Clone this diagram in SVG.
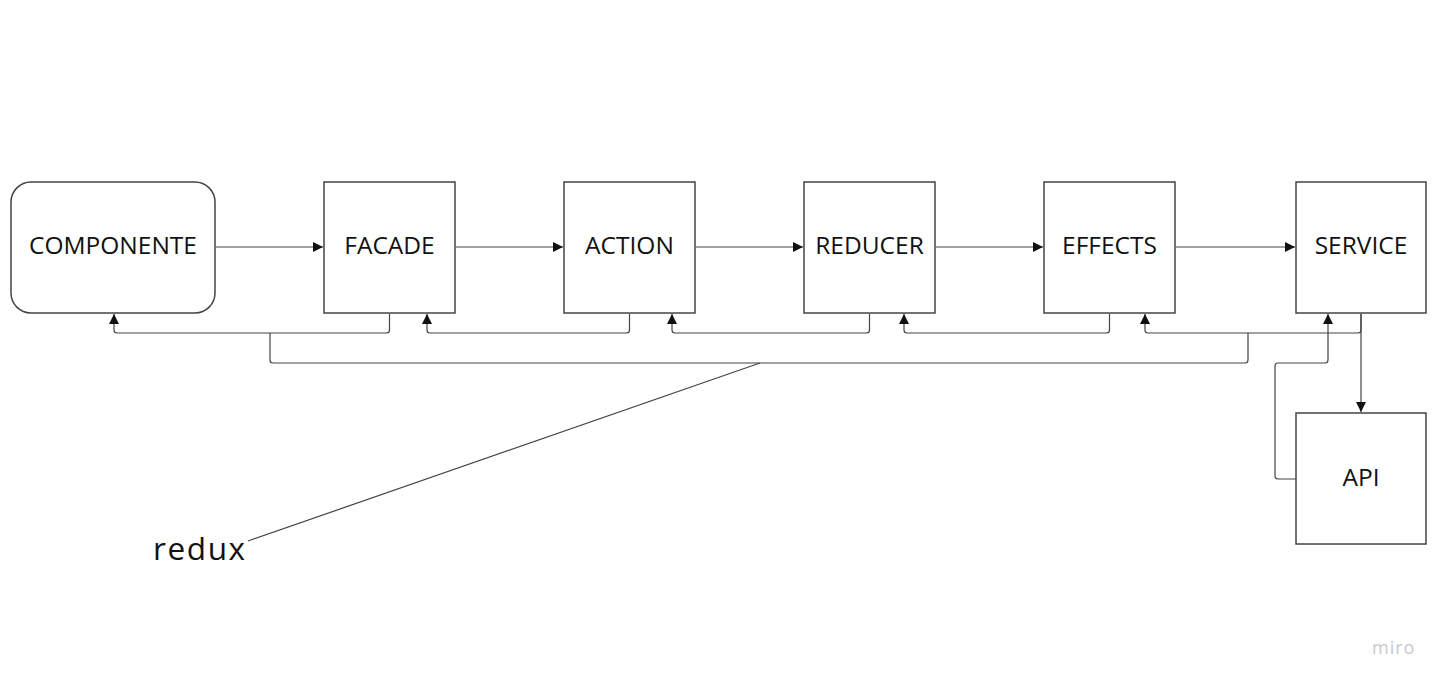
<svg xmlns="http://www.w3.org/2000/svg" width="1451" height="688" viewBox="0 0 1451 688">
<defs>
<marker id="ah" viewBox="0 0 10 10" refX="10" refY="5" markerWidth="10" markerHeight="10" markerUnits="userSpaceOnUse" orient="auto">
<path d="M0,0 L10,5 L0,10 Z" fill="#111"/>
</marker>
</defs>
<style>
.box{fill:#fff;stroke:#444;stroke-width:1.5}
.lbl{font-family:"Open Sans",sans-serif;font-size:24.5px;fill:#111;text-anchor:middle}
.c{fill:none;stroke:#444;stroke-width:1.2}
.a{marker-end:url(#ah)}
</style>
<rect width="1451" height="688" fill="#fff"/>
<g id="connectors">
<path class="c a" d="M216,247 H323"/>
<path class="c a" d="M456,247 H563"/>
<path class="c a" d="M696,247 H803"/>
<path class="c a" d="M936,247 H1043"/>
<path class="c a" d="M1176,247 H1295"/>
<path class="c a" d="M1361,314 V412"/>
<path class="c a" d="M389.5,314 V330 Q389.5,333 386.5,333 H117 Q114,333 114,330 V314"/>
<path class="c a" d="M629.5,314 V330 Q629.5,333 626.5,333 H430 Q427,333 427,330 V314"/>
<path class="c a" d="M869.5,314 V330 Q869.5,333 866.5,333 H675 Q672,333 672,330 V314"/>
<path class="c a" d="M1109.5,314 V330 Q1109.5,333 1106.5,333 H907 Q904,333 904,330 V314"/>
<path class="c a" d="M1361,314 V330 Q1361,333 1358,333 H1148 Q1145,333 1145,330 V314"/>
<path class="c" d="M270,333 V360 Q270,363 273,363 H1245 Q1248,363 1248,360 V333"/>
<path class="c a" d="M1296,479 H1278 Q1275,479 1275,476 V366 Q1275,363 1278,363 H1325 Q1328,363 1328,360 V314"/>
<path class="c" d="M248,541 L760,363"/>
</g>
<g id="componente"><rect class="box" x="11" y="182" width="204" height="131" rx="20"/><text class="lbl" x="113" y="254">COMPONENTE</text></g>
<g id="facade"><rect class="box" x="324" y="182" width="131" height="131"/><text class="lbl" x="389.5" y="254">FACADE</text></g>
<g id="action"><rect class="box" x="564" y="182" width="131" height="131"/><text class="lbl" x="629.5" y="254">ACTION</text></g>
<g id="reducer"><rect class="box" x="804" y="182" width="131" height="131"/><text class="lbl" x="869.5" y="254">REDUCER</text></g>
<g id="effects"><rect class="box" x="1044" y="182" width="131" height="131"/><text class="lbl" x="1109.5" y="254">EFFECTS</text></g>
<g id="service"><rect class="box" x="1296" y="182" width="130" height="131"/><text class="lbl" x="1361" y="254">SERVICE</text></g>
<g id="api"><rect class="box" x="1296" y="413" width="130" height="131"/><text class="lbl" x="1361" y="486">API</text></g>
<g id="redux"><text x="153" y="560" font-family="Open Sans, sans-serif" font-size="31.5" letter-spacing="1.6" fill="#111">redux</text></g>
<text x="1372" y="654" font-family="Open Sans, sans-serif" font-size="18" letter-spacing="1" fill="#c8c8d0">miro</text>
</svg>
